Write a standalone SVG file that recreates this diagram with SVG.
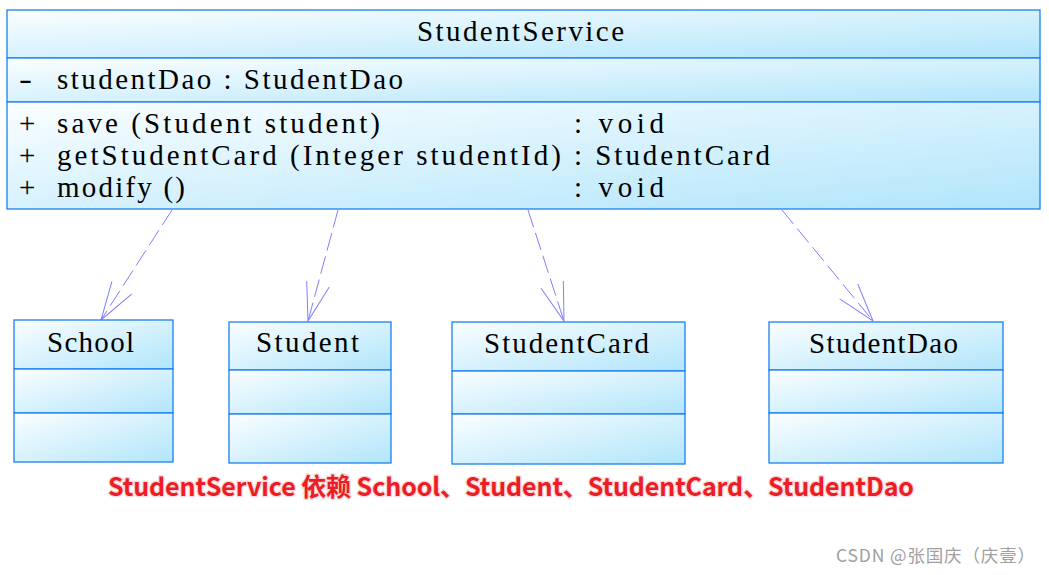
<svg xmlns="http://www.w3.org/2000/svg" width="1049" height="575" viewBox="0 0 1049 575">
  <defs>
    <linearGradient id="cg" x1="0" y1="0" x2="1" y2="1">
      <stop offset="0" stop-color="#fbfeff"/>
      <stop offset="1" stop-color="#b1e5fb"/>
    </linearGradient>
    <marker id="open" markerUnits="userSpaceOnUse" markerWidth="50" markerHeight="30" viewBox="-45 -15 50 30" refX="0" refY="0" orient="auto" overflow="visible">
      <path d="M -38.3 -11.7 L 0 0 L -38.3 11.7" fill="none" stroke="#7f7fff" stroke-width="1"/>
    </marker>
  </defs>
  <style>
    .box { fill: url(#cg); stroke: #1c80ee; stroke-width: 1.3; }
    .uml { font-family: "Liberation Serif", "DejaVu Serif", serif; font-size: 29px; fill: #000; }
    .dep { fill: none; stroke: #7f7fff; stroke-width: 1; stroke-dasharray: 18 6; marker-end: url(#open); }
    .note { font-family: "Noto Sans CJK SC", "Noto Sans", sans-serif; font-weight: bold; font-size: 25px; fill: #ee1c25; stroke: #f6dada; stroke-width: 2.5; paint-order: stroke; }
    .wm { font-family: "Noto Sans CJK SC", "Noto Sans", sans-serif; font-size: 17.5px; fill: #a0a0a0; }
  </style>
  <rect width="1049" height="575" fill="#ffffff"/>

  <g id="connectors">
    <path class="dep" d="M 172 210 L 101 320"/>
    <path class="dep" d="M 338 210 L 308 321"/>
    <path class="dep" d="M 528 210 L 564 321"/>
    <path class="dep" d="M 782 210 L 873 321"/>
  </g>

  <g id="StudentService">
    <rect class="box" x="7" y="10" width="1033" height="48"/>
    <rect class="box" x="7" y="58" width="1033" height="44"/>
    <rect class="box" x="7" y="102" width="1033" height="107"/>
    <text class="uml" x="417" y="41" textLength="207" lengthAdjust="spacing">StudentService</text>
    <text class="uml" x="19" y="89" textLength="13" lengthAdjust="spacingAndGlyphs">-</text>
    <text class="uml" x="57" y="89" textLength="346" lengthAdjust="spacing">studentDao : StudentDao</text>
    <text class="uml" x="19" y="133">+</text>
    <text class="uml" x="57" y="133" textLength="323" lengthAdjust="spacing">save (Student student)</text>
    <text class="uml" x="574" y="133" textLength="90" lengthAdjust="spacing">: void</text>
    <text class="uml" x="19" y="165">+</text>
    <text class="uml" x="57" y="165" textLength="504" lengthAdjust="spacing">getStudentCard (Integer studentId)</text>
    <text class="uml" x="574" y="165" textLength="196" lengthAdjust="spacing">: StudentCard</text>
    <text class="uml" x="19" y="197">+</text>
    <text class="uml" x="57" y="197" textLength="128" lengthAdjust="spacing">modify ()</text>
    <text class="uml" x="574" y="197" textLength="90" lengthAdjust="spacing">: void</text>
  </g>

  <g id="School">
    <rect class="box" x="14" y="320" width="159" height="49"/>
    <rect class="box" x="14" y="369" width="159" height="44"/>
    <rect class="box" x="14" y="413" width="159" height="49"/>
    <text class="uml" x="47" y="352" textLength="87" lengthAdjust="spacing">School</text>
  </g>

  <g id="Student">
    <rect class="box" x="229" y="322" width="162" height="48"/>
    <rect class="box" x="229" y="370" width="162" height="44"/>
    <rect class="box" x="229" y="414" width="162" height="49"/>
    <text class="uml" x="256" y="352" textLength="103" lengthAdjust="spacing">Student</text>
  </g>

  <g id="StudentCard">
    <rect class="box" x="452" y="322" width="233" height="49"/>
    <rect class="box" x="452" y="371" width="233" height="43"/>
    <rect class="box" x="452" y="414" width="233" height="50"/>
    <text class="uml" x="484" y="353" textLength="165" lengthAdjust="spacing">StudentCard</text>
  </g>

  <g id="StudentDao">
    <rect class="box" x="769" y="322" width="234" height="48"/>
    <rect class="box" x="769" y="370" width="234" height="43"/>
    <rect class="box" x="769" y="413" width="234" height="50"/>
    <text class="uml" x="809" y="353" textLength="149" lengthAdjust="spacing">StudentDao</text>
  </g>

  <text class="note" x="108" y="496" textLength="806" lengthAdjust="spacing">StudentService 依赖 School、Student、StudentCard、StudentDao</text>
  <text class="wm" x="836" y="562" textLength="199" lengthAdjust="spacing">CSDN @张国庆（庆壹）</text>
</svg>
